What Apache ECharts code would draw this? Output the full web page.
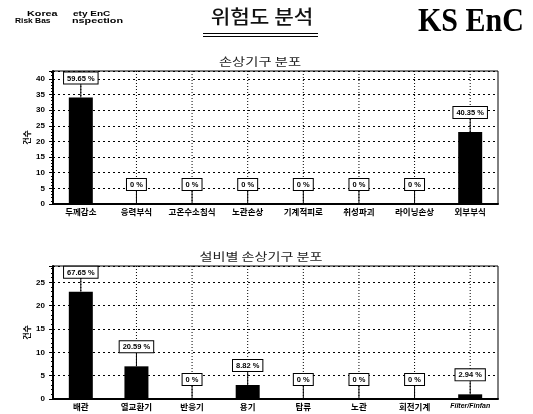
<!DOCTYPE html>
<html><head><meta charset="utf-8">
<script src="https://cdn.jsdelivr.net/npm/echarts@6/dist/echarts.min.js"></script>
<style>html,body{margin:0;padding:0;background:#fff}#c{width:533px;height:414px}</style>
</head><body><div id="c"></div>
<script>
// ---- data ----
const cats1 = ['두께감소','응력부식','고온수소침식','노관손상','기계적피로','취성파괴','라이닝손상','외부부식'];
const vals1 = [34, 0, 0, 0, 0, 0, 0, 23];
const pct1  = ['59.65 %','0 %','0 %','0 %','0 %','0 %','0 %','40.35 %'];
const cats2 = ['배관','열교환기','반응기','용기','탑류','노관','회전기계','Filter/Finfan'];
const vals2 = [23, 7, 0, 3, 0, 0, 0, 1];
const pct2  = ['67.65 %','20.59 %','0 %','8.82 %','0 %','0 %','0 %','2.94 %'];
const yTicks1 = {min:0, max:42.5, interval:5};
const yTicks2 = {min:0, max:28.5, interval:5};

const chart = echarts.init(document.getElementById('c'), null, {renderer:'canvas'});
const KR = '"Noto Sans CJK KR", sans-serif';
const LAT = '"Liberation Sans", Arial, sans-serif';

function xAxis(cats, gi){
  return {type:'category', gridIndex:gi, data:cats, boundaryGap:true,
    axisLine:{lineStyle:{color:'#000', width:2}},
    axisTick:{alignWithLabel:true, length:3, lineStyle:{color:'#000'}},
    axisLabel:{color:'#000', fontFamily:KR, fontWeight:'bold', fontSize:8.5, margin:4, interval:0,
      formatter: v => v === 'Filter/Finfan' ? '{it|' + v + '}' : v,
      rich:{it:{fontFamily:LAT, fontStyle:'italic', fontSize:7, fontWeight:'bold', color:'#000'}}},
    splitLine:{show:false}};
}
function yAxis(t, gi){
  return {type:'value', gridIndex:gi, min:t.min, max:t.max, interval:t.interval,
    name:'건수', nameLocation:'middle', nameRotate:90, nameGap:22, nameMoveOverlap:false,
    nameTextStyle:{fontFamily:KR, fontWeight:'bold', fontSize:8, color:'#000'},
    axisLine:{show:true, lineStyle:{color:'#000', width:2}},
    axisTick:{show:true, length:4, lineStyle:{color:'#000'}},
    minorTick:{show:true, splitNumber:5, length:2, lineStyle:{color:'#000'}},
    axisLabel:{color:'#000', fontFamily:LAT, fontWeight:'bold', fontSize:8, margin:8, showMaxLabel:false},
    splitLine:{show:true, lineStyle:{color:'#000', type:[2,3], width:1}}};
}
function labelSeries(xi, vals, pcts){
  return {type:'custom', xAxisIndex:xi, yAxisIndex:xi, z:10, silent:true,
    data: vals.map((v,i)=>[i,v]), encode:{x:0,y:1},
    renderItem(params, api){
      const i = api.value(0), v = api.value(1);
      const base = api.coord([i,0]), top = api.coord([i,v]);
      const cs = params.coordSys;
      const ly = top[1] - 14;
      return {type:'group', children:[
        {type:'line', z2:1, shape:{x1:base[0], y1:base[1], x2:base[0], y2:cs.y},
          style:{stroke:'#000', lineWidth:1, lineDash:[1,2]}},
        {type:'line', z2:2, shape:{x1:top[0], y1:top[1], x2:top[0], y2:ly},
          style:{stroke:'#000', lineWidth:1}},
        {type:'text', z2:3, x:top[0], y:ly,
          style:{text:pcts[params.dataIndex], align:'center', verticalAlign:'bottom',
            font:'bold 7.5px ' + LAT, fill:'#000', backgroundColor:'#fff',
            borderColor:'#000', borderWidth:1, padding:[2,3,1,3]}}
      ]};
    }};
}
function barSeries(xi, vals){
  return {type:'bar', xAxisIndex:xi, yAxisIndex:xi, data:vals, barWidth:24, z:5,
    itemStyle:{color:'#000'}, silent:true};
}

chart.setOption({
  animation:false,
  grid:[
    {left:53, top:71, right:35, height:133, show:true, borderColor:'#000', borderWidth:1, backgroundColor:'transparent'},
    {left:53, top:266, right:35, height:133, show:true, borderColor:'#000', borderWidth:1, backgroundColor:'transparent'}
  ],
  xAxis:[xAxis(cats1,0), xAxis(cats2,1)],
  yAxis:[yAxis(yTicks1,0), yAxis(yTicks2,1)],
  series:[barSeries(0, vals1), labelSeries(0, vals1, pct1), barSeries(1, vals2), labelSeries(1, vals2, pct2)],
  graphic:[
    {type:'text', x:262, y:7, scaleX:1.12, style:{text:'위험도 분석', align:'center', font:'500 19px ' + KR, fill:'#111'}},
    {type:'line', shape:{x1:203, y1:33.5, x2:318, y2:33.5}, style:{stroke:'#000', lineWidth:1.2}},
    {type:'line', shape:{x1:203, y1:36.5, x2:318, y2:36.5}, style:{stroke:'#000', lineWidth:1.2}},
    {type:'text', x:260, y:56, scaleX:1.3, style:{text:'손상기구 분포', align:'center', font:'11px ' + KR, fill:'#222'}},
    {type:'text', x:261, y:251, scaleX:1.28, style:{text:'설비별 손상기구 분포', align:'center', font:'11px ' + KR, fill:'#222'}},
    {type:'text', x:418, y:5, scaleY:1.15, style:{text:'KS EnC', font:'bold 30px "Liberation Serif", "DejaVu Serif", serif', fill:'#000'}},
    {type:'text', x:27, y:10, scaleX:1.35, style:{text:'Korea', font:'bold 8px ' + LAT, fill:'#000'}},
    {type:'text', x:73, y:10, scaleX:1.25, style:{text:'ety EnC', font:'bold 8px ' + LAT, fill:'#000'}},
    {type:'text', x:15, y:17, scaleX:1.05, style:{text:'Risk Bas', font:'bold 8px ' + LAT, fill:'#000'}},
    {type:'text', x:72, y:17, scaleX:1.35, style:{text:'nspection', font:'bold 8px ' + LAT, fill:'#000'}}
  ]
});
</script></body></html>
